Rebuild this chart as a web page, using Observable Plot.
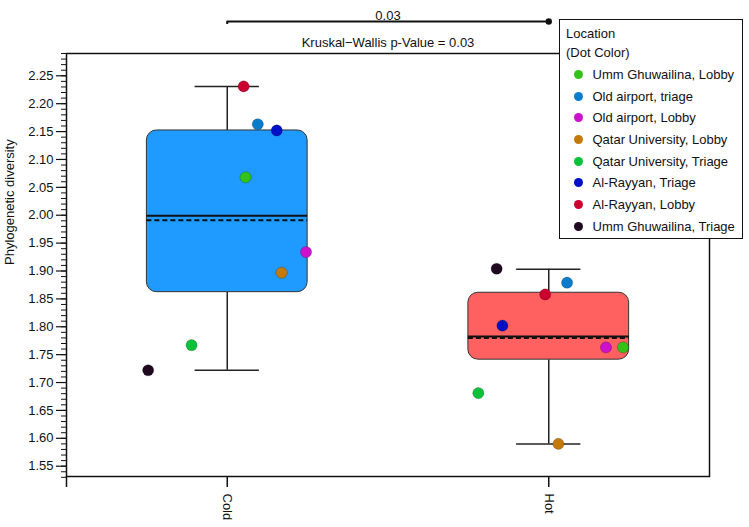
<!DOCTYPE html>
<html>
<head>
<meta charset="utf-8">
<script src="https://cdn.jsdelivr.net/npm/d3@7"></script>
<script src="https://cdn.jsdelivr.net/npm/@observablehq/plot@0.6"></script>
<style>
  body { margin: 0; background: #fff; }
  #wrap { position: relative; width: 749px; height: 527px; font-family: "Liberation Sans", Arial, sans-serif; color: #111; }
  #legend { position: absolute; left: 559px; top: 19px; width: 184px; height: 220px; border: 1.5px solid #111; background: #fff; box-sizing: border-box; padding-top: 4px; padding-left: 6px; font-size: 13px; }
  #legend .t { line-height: 19px; }
  #legend .items { margin-top: 1.5px; }
  #legend .it { display: flex; align-items: center; height: 21.7px; }
  #legend .sw { width: 9px; height: 9px; border-radius: 50%; margin-left: 8px; margin-right: 9.5px; flex: none; }
</style>
</head>
<body>
<div id="wrap"></div>
<script>
// ---- data ----
const groups = ["Cold", "Hot"];
const boxColors = ["#1f9bff", "#ff6060"];
const q1 = [1.862, 1.741];
const q3 = [2.152, 1.861];
const medians = [1.999, 1.7825];
const means = [1.991, 1.780];
const whiskerLow = [1.722, 1.590];
const whiskerHigh = [2.231, 1.903];

const locations = [
  "Umm Ghuwailina, Lobby",
  "Old airport, triage",
  "Old airport, Lobby",
  "Qatar University, Lobby",
  "Qatar University, Triage",
  "Al-Rayyan, Triage",
  "Al-Rayyan, Lobby",
  "Umm Ghuwailina, Triage"
];
const locationColors = ["#33c21a", "#0a7ccc", "#cc10cc", "#c47a0a", "#0cc13a", "#0010c8", "#cc0030", "#200820"];
const coldValues = [2.068, 2.163, 1.934, 1.897, 1.767, 2.152, 2.231, 1.722];
const hotValues  = [1.763, 1.879, 1.763, 1.590, 1.681, 1.802, 1.858, 1.904];
const coldJitter = [0.057, 0.095, 0.245, 0.169, -0.111, 0.154, 0.051, -0.246];
const hotJitter  = [0.231, 0.057, 0.178, 0.030, -0.219, -0.144, -0.011, -0.162];

const pValueText = "0.03";
const testText = "Kruskal\u2212Wallis p-Value = 0.03";
const yLabel = "Phylogenetic diversity";
const yMajorTicks = d3.range(1.55, 2.2501, 0.05).map(v => +v.toFixed(2));
const yMinorTicks = d3.range(1.53, 2.2901, 0.01).map(v => +v.toFixed(2));
const yDomain = [1.5315, 2.29];

// ---- derived tables ----
const boxes = groups.map((g, i) => ({
  g, c: i + 0.5, q1: q1[i], q3: q3[i], med: medians[i], mean: means[i],
  lo: whiskerLow[i], hi: whiskerHigh[i], fill: boxColors[i]
}));
const points = [];
[coldValues, hotValues].forEach((vals, gi) => {
  const jit = gi === 0 ? coldJitter : hotJitter;
  vals.forEach((v, li) => points.push({ x: gi + 0.5 + jit[li], y: v, color: locationColors[li], loc: locations[li] }));
});

const xTickVals = [0, 0.5, 1.5];
const xTickLabel = v => v === 0 ? "" : groups[Math.floor(v)];

const chart = Plot.plot({
  width: 749,
  height: 527,
  marginLeft: 66,
  marginRight: 40,
  marginTop: 53,
  marginBottom: 51,
  style: { fontFamily: "'Liberation Sans', Arial, sans-serif", fontSize: "13px", color: "#111", background: "#fff" },
  x: { type: "linear", domain: [0, 2] },
  y: { domain: yDomain },
  marks: [
    // whiskers
    Plot.ruleX(boxes, { x: "c", y1: "q3", y2: "hi", stroke: "#222", strokeWidth: 1.5 }),
    Plot.ruleX(boxes, { x: "c", y1: "lo", y2: "q1", stroke: "#222", strokeWidth: 1.5 }),
    Plot.ruleY(boxes, { y: "hi", x1: d => d.c - 0.1, x2: d => d.c + 0.1, stroke: "#222", strokeWidth: 1.5 }),
    Plot.ruleY(boxes, { y: "lo", x1: d => d.c - 0.1, x2: d => d.c + 0.1, stroke: "#222", strokeWidth: 1.5 }),
    // boxes
    Plot.rect(boxes, { x1: d => d.c - 0.25, x2: d => d.c + 0.25, y1: "q1", y2: "q3", fill: "fill", stroke: "#333", strokeWidth: 1, rx: 10 }),
    Plot.ruleY(boxes, { y: "med", x1: d => d.c - 0.25, x2: d => d.c + 0.25, stroke: "#111", strokeWidth: 2 }),
    Plot.ruleY(boxes, { y: "mean", x1: d => d.c - 0.25, x2: d => d.c + 0.25, stroke: "#111", strokeWidth: 2, strokeDasharray: "5,3" }),
    // dots
    Plot.dot(points, { x: "x", y: "y", fill: "color", r: 5.6, stroke: "rgba(0,0,0,0.25)", strokeWidth: 0.8 }),
    // axes
    Plot.axisY(yMinorTicks, { tickSize: 5, text: null, strokeWidth: 1 }),
    Plot.axisY(yMajorTicks, { tickSize: 10, tickPadding: 3, tickFormat: d3.format(".2f"), strokeWidth: 1.2, label: null }),
    Plot.text([yLabel], { frameAnchor: "left", dx: -57, rotate: -90, fontSize: 13 }),
    Plot.axisX(xTickVals, { tickSize: 11, tickPadding: 6, tickRotate: 90, tickFormat: xTickLabel, strokeWidth: 1.5, label: null }),
    Plot.frame({ stroke: "#111", strokeWidth: 1.5 }),
    // significance annotation
    Plot.ruleY([yDomain[1]], { x1: 0.5, x2: 1.5, dy: -32, stroke: "#111", strokeWidth: 2 }),
    Plot.ruleX([0.5], { y1: yDomain[1], y2: yDomain[1], dy: -32, insetBottom: -3, stroke: "#111", strokeWidth: 2 }),
    Plot.dot([1.5], { x: d => d, y: yDomain[1], dy: -32, r: 3.2, fill: "#111" }),
    Plot.text([pValueText], { x: 1, frameAnchor: "top", dy: -43, fontSize: 13 }),
    Plot.text([testText], { x: 1, frameAnchor: "top", dy: -16, fontSize: 13 })
  ]
});

const wrap = document.getElementById("wrap");
wrap.appendChild(chart);

// legend
const lg = document.createElement("div");
lg.id = "legend";
lg.innerHTML = `<div class="t">Location</div><div class="t">(Dot Color)</div><div class="items">` +
  locations.map((l, i) => `<div class="it"><span class="sw" style="background:${locationColors[i]}"></span><span>${l}</span></div>`).join("") +
  `</div>`;
wrap.appendChild(lg);
</script>
</body>
</html>
